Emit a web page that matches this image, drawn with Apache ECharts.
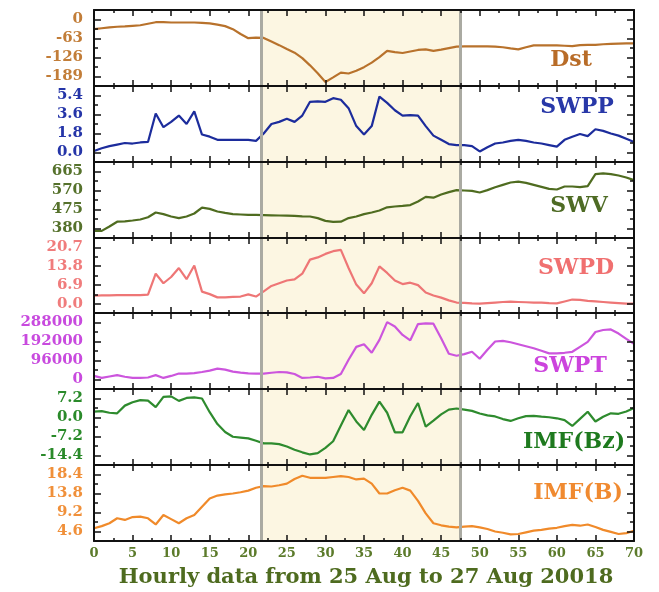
<!DOCTYPE html>
<html><head><meta charset="utf-8">
<script src="https://cdn.jsdelivr.net/npm/echarts@6/dist/echarts.min.js"></script>
<style>html,body{margin:0;padding:0;background:#fff}#c{width:659px;height:592px}</style>
</head><body><div id="c"></div>
<script>
// x tick labels (hours)
const xTickLabels = [0,5,10,15,20,25,30,35,40,45,50,55,60,65,70];
const shadeRange = [21.7, 47.5];

const dst = [-32,-29,-26,-24,-23,-21,-19,-14,-9,-9,
 -10,-10,-10,-10,-11,-13,-17,-22,-32,-48,
 -62,-60,-61,-73,-85,-98,-110,-128,-152,-178,
 -207,-192,-176,-179,-170,-158,-143,-125,-104,-108,
 -111,-106,-101,-99,-104,-100,-95,-90,-89,-89,
 -89,-89,-90,-92,-96,-99,-92,-86,-86,-86,
 -86,-87,-88,-85,-84,-84,-82,-81,-80,-79,
 -79];
const swpp = [0.15,0.4,0.6,0.75,0.9,0.85,0.95,1.0,3.7,2.4,
 2.9,3.5,2.7,3.9,1.7,1.5,1.2,1.2,1.2,1.2,
 1.2,1.1,1.8,2.7,2.9,3.2,2.9,3.5,4.8,4.85,
 4.8,5.15,5.0,4.2,2.5,1.7,2.5,5.3,4.7,4.0,
 3.5,3.55,3.5,2.5,1.6,1.2,0.8,0.7,0.7,0.6,
 0.1,0.5,0.85,0.95,1.1,1.2,1.1,0.95,0.85,0.7,
 0.55,1.2,1.5,1.75,1.55,2.2,2.05,1.8,1.6,1.3,
 1.0];
const swv = [368,368,390,414,416,420,425,436,460,452,
 440,432,440,455,484,478,465,458,452,450,
 448,448,447,446,445,444,443,441,440,432,
 418,413,414,432,440,452,460,470,486,490,
 493,497,515,538,534,550,562,572,570,568,
 560,572,586,598,610,614,608,598,588,578,
 575,590,590,587,592,652,656,652,645,635,
 622];
const swpd = [2.9,3.0,3.0,3.1,3.1,3.1,3.1,3.3,11.0,7.5,
 9.8,13.1,9.0,14.0,4.4,3.5,2.3,2.3,2.5,2.6,
 3.4,2.6,4.5,6.5,7.5,8.5,8.9,11.0,16.2,17.0,
 18.3,19.3,19.8,13.1,7.0,3.8,7.5,13.7,11.3,8.5,
 7.2,7.7,6.8,4.1,3.0,2.2,1.2,0.4,0.3,0.1,
 0.0,0.2,0.4,0.6,0.7,0.6,0.5,0.4,0.4,0.2,
 0.1,0.8,1.5,1.4,1.0,0.8,0.6,0.4,0.2,0.0,
 0.0];
const swpt = [18000,8000,15000,22000,14000,8000,8000,10000,22000,8000,
 18000,30000,30000,32000,38000,45000,55000,50000,40000,35000,
 31000,30000,30000,34000,38000,36000,28000,8000,10000,14000,
 6000,8000,28000,100000,165000,178000,135000,200000,290000,268000,
 225000,198000,280000,284000,282000,208000,130000,120000,128000,140000,
 105000,150000,192000,195000,188000,178000,168000,158000,145000,132000,
 132000,135000,140000,165000,190000,240000,250000,253000,232000,205000,
 180000];
const imfBz = [2.2,2.4,1.8,1.6,4.5,5.8,6.6,6.4,3.9,7.8,
 8.0,6.3,7.4,7.6,7.2,2.0,-2.5,-5.5,-7.3,-7.6,
 -7.9,-8.8,-9.8,-9.8,-10.1,-11.0,-12.2,-13.2,-14.0,-13.5,
 -11.5,-9.0,-3.0,2.8,-1.5,-4.7,1.0,6.0,1.8,-5.6,
 -5.6,0.5,5.5,-3.5,-1.2,1.2,3.0,3.4,3.0,2.5,
 1.5,0.8,0.4,-0.6,-1.3,-0.3,0.5,0.6,0.3,0.1,
 -0.3,-1.0,-3.2,-0.5,2.2,-1.5,0.3,1.6,1.4,2.3,
 3.6];
const imfB = [5.4,5.9,6.6,7.8,7.4,8.1,8.2,7.8,6.3,8.6,
 7.6,6.6,7.8,8.6,10.6,12.6,13.3,13.6,13.8,14.1,
 14.5,15.2,15.6,15.5,15.8,16.2,17.3,18.1,17.6,17.6,
 17.6,17.8,18.0,17.8,17.2,17.4,16.2,13.8,13.8,14.6,
 15.2,14.5,12.0,9.0,6.6,6.1,5.8,5.6,5.8,5.9,
 5.6,5.2,4.6,4.3,3.9,4.0,4.4,4.8,5.0,5.3,
 5.5,5.9,6.2,6.0,6.3,5.7,5.0,4.5,4.0,4.2,
 4.8];

const dstTicks = [-189,-126,-63,0];
const swppTicks = [0.0,1.8,3.6,5.4];
const swvTicks = [380,475,570,665];
const swpdTicks = [0.0,6.9,13.8,20.7];
const swptTicks = [0,96000,192000,288000];
const bzTicks = [-14.4,-7.2,0.0,7.2];
const bTicks = [4.6,9.2,13.8,18.4];

const names = ['Dst','SWPP','SWV','SWPD','SWPT','IMF(Bz)','IMF(B)'];
const panels = [
  {data:dst, ticks:dstTicks, dec:0, line:'#b8722c', lab:'#c27d38', txt:'#b86c28', nx:571, ny:60},
  {data:swpp, ticks:swppTicks, dec:1, line:'#1c2c9c', lab:'#2535a8', txt:'#2838a8', nx:577, ny:107},
  {data:swv, ticks:swvTicks, dec:0, line:'#4f6c20', lab:'#56722c', txt:'#4e6b24', nx:579, ny:206},
  {data:swpd, ticks:swpdTicks, dec:1, line:'#ee7676', lab:'#f07c7c', txt:'#f07070', nx:576, ny:268},
  {data:swpt, ticks:swptTicks, dec:0, line:'#cc55dd', lab:'#c84ade', txt:'#cc44dd', nx:570, ny:366},
  {data:imfBz, ticks:bzTicks, dec:1, line:'#2e8b2e', lab:'#2a8a2a', txt:'#1e7a1e', nx:574, ny:442},
  {data:imfB, ticks:bTicks, dec:1, line:'#f08a2a', lab:'#f0903a', txt:'#f08a30', nx:578, ny:493}
];

const grid=[], xAxis=[], yAxis=[], series=[], graphic=[];
const N = panels.length;
const top0 = 10, ph = 75.86;
panels.forEach((p,i)=>{
  const t = Math.round(top0 + i*ph), b = Math.round(top0 + (i+1)*ph);
  grid.push({left:94, width:540, top:t, height:b-t, containLabel:false, outerBoundsMode:'none'});
  const step = p.ticks[1]-p.ticks[0], h = step/2;
  const ymin = p.ticks[0]-h, ymax = p.ticks[p.ticks.length-1]+h;
  const minors = p.ticks.slice(0,-1).map(v=>v+h);
  const axLine = {show:true, onZero:false, lineStyle:{color:'#111', width:2}};
  ['bottom','top'].forEach(pos=>{
    xAxis.push({gridIndex:i, type:'value', min:0, max:70, interval:5, position:pos, z:10,
      axisLine:axLine,
      axisTick:{show:true, inside:true, length:6, lineStyle:{color:'#111', width:1.5}},
      minorTick:{show:true, splitNumber:2, length:3, lineStyle:{color:'#111', width:1.5}},
      splitLine:{show:false}, minorSplitLine:{show:false},
      axisLabel:{show: pos==='bottom' && i===N-1, margin:6,
        customValues:xTickLabels,
        fontFamily:'DejaVu Serif', fontWeight:'bold', fontSize:13, color:'#5c7b2b'}
    });
  });
  const yi = yAxis.length;
  ['left','right'].forEach(pos=>{
    yAxis.push({gridIndex:i, type:'value', min:ymin, max:ymax, position:pos, z:10,
      axisLine:axLine,
      axisTick:{show:true, inside:true, length:7, customValues:p.ticks, lineStyle:{color:'#111', width:1.5}},
      splitLine:{show:false},
      axisLabel:{show: pos==='left', customValues:p.ticks, margin:11,
        formatter:v=>Number(v).toFixed(p.dec),
        fontFamily:'DejaVu Serif', fontWeight:'bold', fontSize:15, color:p.lab}
    });
    yAxis.push({gridIndex:i, type:'value', min:ymin, max:ymax, position:pos, z:10,
      axisLine:{show:false, onZero:false},
      axisTick:{show:true, inside:true, length:4, customValues:minors, lineStyle:{color:'#111', width:1.5}},
      splitLine:{show:false}, axisLabel:{show:false}
    });
  });
  series.push({type:'line', name:names[i], xAxisIndex:2*i, yAxisIndex:yi,
    data:p.data.map((v,k)=>[k,v]), showSymbol:false, symbol:'none',
    lineStyle:{color:p.line, width:2.2}, z:3, animation:false,
    markArea:{silent:true, itemStyle:{color:'#fcf6e2'}, data:[[{xAxis:shadeRange[0]},{xAxis:shadeRange[1]}]]},
    markLine:{silent:true, symbol:'none', label:{show:false}, animation:false,
      lineStyle:{color:'#aaaaa2', width:3, type:'solid'},
      data:[{xAxis:shadeRange[0]},{xAxis:shadeRange[1]}]}
  });
  graphic.push({type:'text', x:p.nx, y:p.ny, z:20, style:{text:names[i], fill:p.txt,
    font:'bold 22px "DejaVu Serif"', align:'center', verticalAlign:'middle'}});
});
graphic.push({type:'text', x:366, y:578, z:20, style:{text:'Hourly data from 25 Aug to 27 Aug 20018',
  fill:'#4e6b1f', font:'bold 21px "DejaVu Serif"', align:'center', verticalAlign:'middle'}});

const chart = echarts.init(document.getElementById('c'), null, {renderer:'canvas'});
chart.setOption({animation:false, backgroundColor:'#fff', grid, xAxis, yAxis, series, graphic});
</script></body></html>
